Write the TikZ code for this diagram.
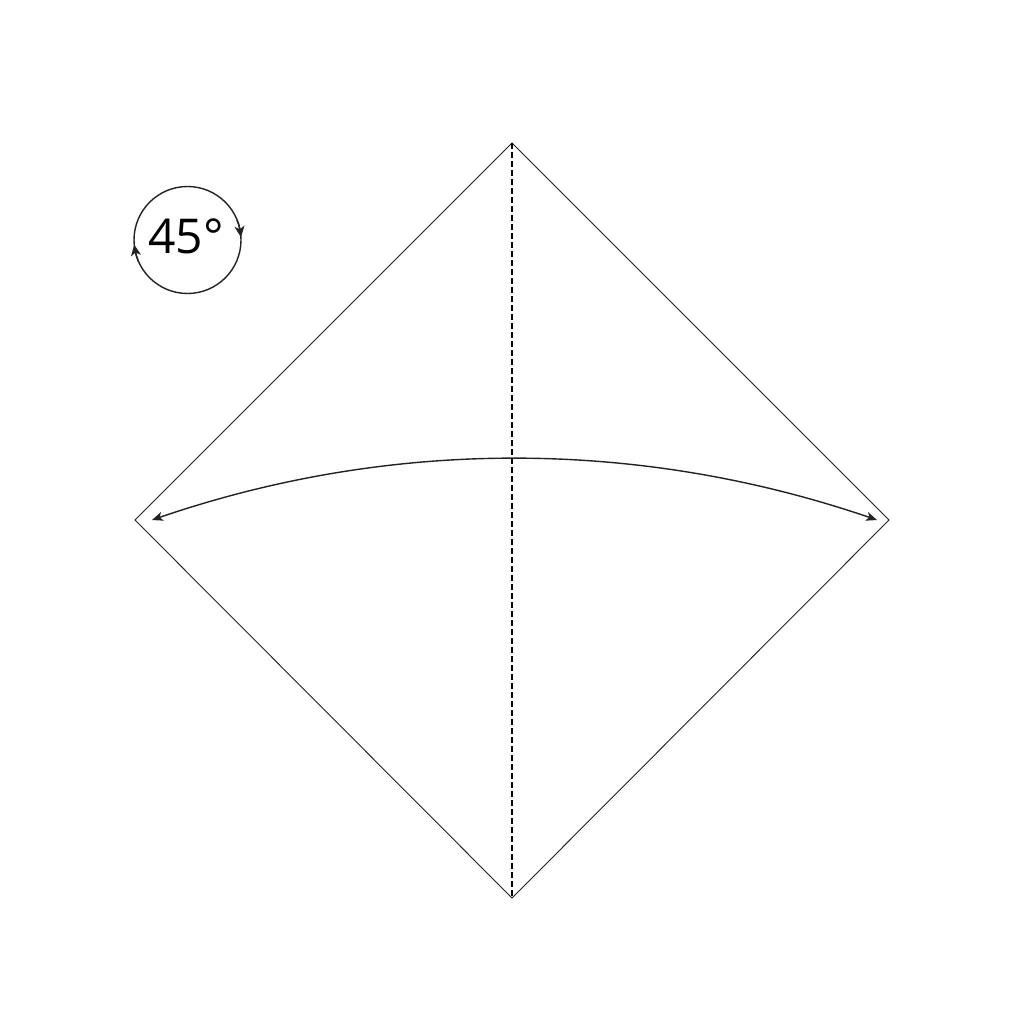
\documentclass[tikz,border=0pt]{standalone}
\usepackage{fontspec}
\setmainfont{Open Sans}
\usetikzlibrary{arrows.meta,bending}
\definecolor{ink}{HTML}{222222}
\tikzset{
  edge/.style={draw=ink, line width=0.9pt},
  fold/.style={draw=black, line width=2.2pt, dash pattern=on 6pt off 3pt},
  movearrow/.style={draw=ink, line width=1.4pt, {Stealth[length=11pt,width=9pt,inset=3pt]}-{Stealth[length=11pt,width=9pt,inset=3pt]}},
  rotcircle/.style={draw=ink, line width=1.4pt},
  rottip/.style={draw=ink, line width=1.4pt, -{Stealth[length=11pt,width=10pt,inset=3pt,flex]}}
}
\begin{document}
\begin{tikzpicture}[x=1pt,y=-1pt]
\useasboundingbox (0,0) rectangle (1024,1024);
\coordinate (T) at (512,143);
\coordinate (R) at (889,520);
\coordinate (B) at (512,898);
\coordinate (L) at (135,520);
\draw[edge] (T) -- (R) -- (B) -- (L) -- cycle;
\draw[fold] (T) -- (B);
\coordinate (AL) at (152,520);
\coordinate (AR) at (877,520);
\coordinate (AC1) at (387,437.5);
\coordinate (AC2) at (641,437.5);
\draw[movearrow] (AL) .. controls (AC1) and (AC2) .. (AR);
\coordinate (C) at (187.5,240);
\draw[rotcircle] (C) circle[radius=53.5];
\draw[rottip] (C) ++(156:53.5) arc[start angle=156, end angle=175, radius=53.5];
\draw[rottip] (C) ++(-22:53.5) arc[start angle=-22, end angle=-3, radius=53.5];
\node[text=black, font=\fontsize{48}{48}\selectfont, inner sep=0pt] (lbl) at (186,236) {45°};
\end{tikzpicture}
\end{document}
